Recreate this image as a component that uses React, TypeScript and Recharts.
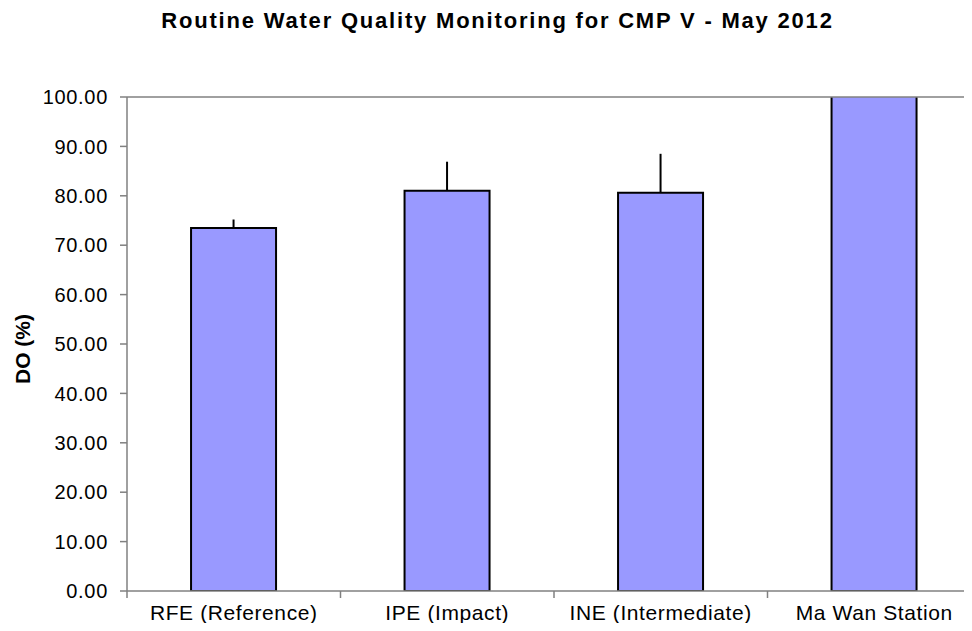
import { BarChart, Bar, XAxis, YAxis, ErrorBar, ReferenceLine } from 'recharts';

const stations = ['RFE (Reference)', 'IPE (Impact)', 'INE (Intermediate)', 'Ma Wan Station'];
const doValues = [73.5, 81.0, 80.6, 104.0];
const doErrors = [1.7, 5.9, 7.9, 0];
const yTicks = [0, 10, 20, 30, 40, 50, 60, 70, 80, 90, 100];

const data = stations.map((name, i) => ({
  name,
  value: doValues[i],
  err: [0, doErrors[i]],
}));

const FONT = '"Liberation Sans", Arial, sans-serif';

// x ticks sit on the category boundaries, labels in the middle
function CategoryTick(props: any) {
  const { x, y, payload } = props;
  const half = payload.offset ?? 0;
  return (
    <g>
      <line x1={x - half} x2={x - half} y1={y - 8} y2={y - 1} stroke="#808080" strokeWidth={1.5} />
      <text
        x={x}
        y={y + 21}
        textAnchor="middle"
        fill="#000"
        fontSize={21}
        letterSpacing={0.6}
        fontFamily={FONT}
      >
        {payload.value}
      </text>
    </g>
  );
}

export default function App() {
  return (
    <div style={{ position: 'relative', width: 972, height: 631, margin: -8, overflow: 'hidden', background: '#fff' }}>
      <div
        style={{
          position: 'absolute',
          left: 0,
          width: 995,
          top: 8,
          textAlign: 'center',
          fontFamily: FONT,
          fontWeight: 'bold',
          fontSize: 22,
          letterSpacing: 1.8,
          whiteSpace: 'nowrap',
        }}
      >
        Routine Water Quality Monitoring for CMP V - May 2012
      </div>
      <div
        style={{
          position: 'absolute',
          left: 23,
          top: 349,
          transform: 'translate(-50%, -50%) rotate(-90deg)',
          fontFamily: FONT,
          fontWeight: 'bold',
          fontSize: 21,
          whiteSpace: 'nowrap',
        }}
      >
        DO (%)
      </div>
      <BarChart
        width={1000}
        height={631}
        data={data}
        margin={{ top: 97, right: 19, left: 0, bottom: 0 }}
        barCategoryGap="30%"
      >
        <ReferenceLine y={100} stroke="#808080" strokeWidth={1.5} />
        <XAxis
          dataKey="name"
          height={40}
          axisLine={{ stroke: '#808080', strokeWidth: 1.5 }}
          tickLine={false}
          interval={0}
          tick={<CategoryTick />}
        />
        <YAxis
          width={127}
          domain={[0, 100]}
          ticks={yTicks}
          allowDataOverflow
          tickFormatter={(v: number) => v.toFixed(2)}
          axisLine={{ stroke: '#808080', strokeWidth: 1.5 }}
          tickLine={{ stroke: '#808080', strokeWidth: 1.5 }}
          tickSize={7}
          tick={{ fill: '#000', fontSize: 20, letterSpacing: 0.7, fontFamily: FONT, dx: -10 }}
        />
        <Bar dataKey="value" fill="#9999FF" stroke="#000" strokeWidth={2} isAnimationActive={false}>
          <ErrorBar dataKey="err" width={0} stroke="#000" strokeWidth={2} direction="y" />
        </Bar>
      </BarChart>
    </div>
  );
}
